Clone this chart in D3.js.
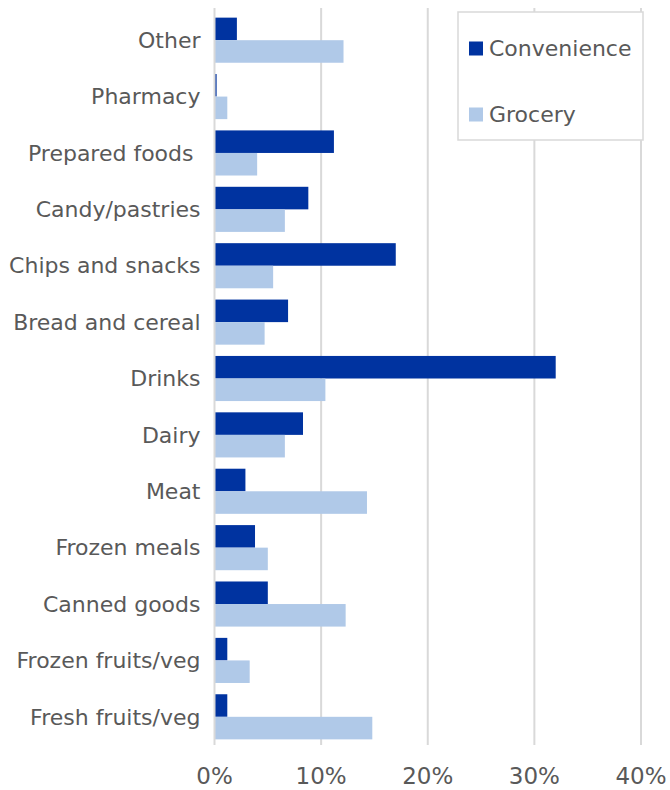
<!DOCTYPE html>
<html>
<head>
<meta charset="utf-8">
<script src="https://cdn.jsdelivr.net/npm/d3@7"></script>
<style>
  body { margin: 0; background: #fff; }
  text { font-family: "DejaVu Sans", sans-serif; fill: #595959; }
</style>
</head>
<body>
<svg id="chart"></svg>
<script>
// categories, top to bottom
const categories = [
  "Other", "Pharmacy", "Prepared foods ", "Candy/pastries", "Chips and snacks",
  "Bread and cereal", "Drinks", "Dairy", "Meat", "Frozen meals",
  "Canned goods", "Frozen fruits/veg", "Fresh fruits/veg"
]
const convenience = [2.1, 0.2, 11.2, 8.8, 17.0, 6.9, 32.0, 8.3, 2.9, 3.8, 5.0, 1.2, 1.2]
const grocery = [12.1, 1.2, 4.0, 6.6, 5.5, 4.7, 10.4, 6.6, 14.3, 5.0, 12.3, 3.3, 14.8]
const series = ["Convenience", "Grocery"]
const colors = ["#0033a0", "#b0c9e8"]
const xTicks = [0, 10, 20, 30, 40]

const width = 670
const height = 790
const margin = { top: 12, right: 29, bottom: 45, left: 214.5 }

const rows = categories.map((c, i) => ({ cat: c, values: [convenience[i], grocery[i]] }))

const svg = d3.select("#chart")
  .attr("width", width)
  .attr("height", height)

const x = d3.scaleLinear()
  .domain([0, 40])
  .range([margin.left, width - margin.right])

const y = d3.scaleBand()
  .domain(categories)
  .range([margin.top, height - margin.bottom])
  .paddingInner(0.2)
  .paddingOuter(0.1)

const inner = d3.scaleBand()
  .domain(series)
  .range([0, y.bandwidth()])

// gridlines
svg.append("g")
  .selectAll("line")
  .data(xTicks.slice(1))
  .join("line")
  .attr("x1", d => x(d))
  .attr("x2", d => x(d))
  .attr("y1", 8)
  .attr("y2", height - margin.bottom)
  .attr("stroke", "#d9d9d9")
  .attr("stroke-width", 2)

// bars
const group = svg.append("g")
  .selectAll("g")
  .data(rows)
  .join("g")
  .attr("transform", d => `translate(0,${y(d.cat)})`)

group.selectAll("rect")
  .data(d => d.values.map((v, i) => ({ key: series[i], v, i })))
  .join("rect")
  .attr("x", x(0))
  .attr("y", d => inner(d.key))
  .attr("width", d => x(d.v) - x(0))
  .attr("height", inner.bandwidth())
  .attr("fill", d => colors[d.i])

// category axis line
svg.append("line")
  .attr("x1", x(0))
  .attr("x2", x(0))
  .attr("y1", 8)
  .attr("y2", height - margin.bottom)
  .attr("stroke", "#d9d9d9")
  .attr("stroke-width", 2)

// category labels
svg.append("g")
  .selectAll("text")
  .data(categories)
  .join("text")
  .attr("x", x(0) - 14)
  .attr("y", d => y(d) + y.bandwidth() / 2)
  .attr("dy", "0.35em")
  .attr("text-anchor", "end")
  .style("white-space", "pre")
  .attr("font-size", 22)
  .text(d => d)

// x tick labels
svg.append("g")
  .selectAll("text")
  .data(xTicks)
  .join("text")
  .attr("x", d => x(d))
  .attr("y", 776)
  .attr("dy", "0.36em")
  .attr("text-anchor", "middle")
  .attr("font-size", 23)
  .text(d => d + "%")

// legend
const legend = svg.append("g")
legend.append("rect")
  .attr("x", 458)
  .attr("y", 12)
  .attr("width", 185)
  .attr("height", 128)
  .attr("fill", "#fff")
  .attr("stroke", "#d9d9d9")
  .attr("stroke-width", 1.5)

const item = legend.selectAll("g")
  .data(series)
  .join("g")
  .attr("transform", (d, i) => `translate(469,${41.5 + i * 66})`)

item.append("rect")
  .attr("width", 14)
  .attr("height", 14)
  .attr("fill", (d, i) => colors[i])

item.append("text")
  .attr("x", 20)
  .attr("y", 14)
  .attr("font-size", 22)
  .text(d => d)
</script>
</body>
</html>
